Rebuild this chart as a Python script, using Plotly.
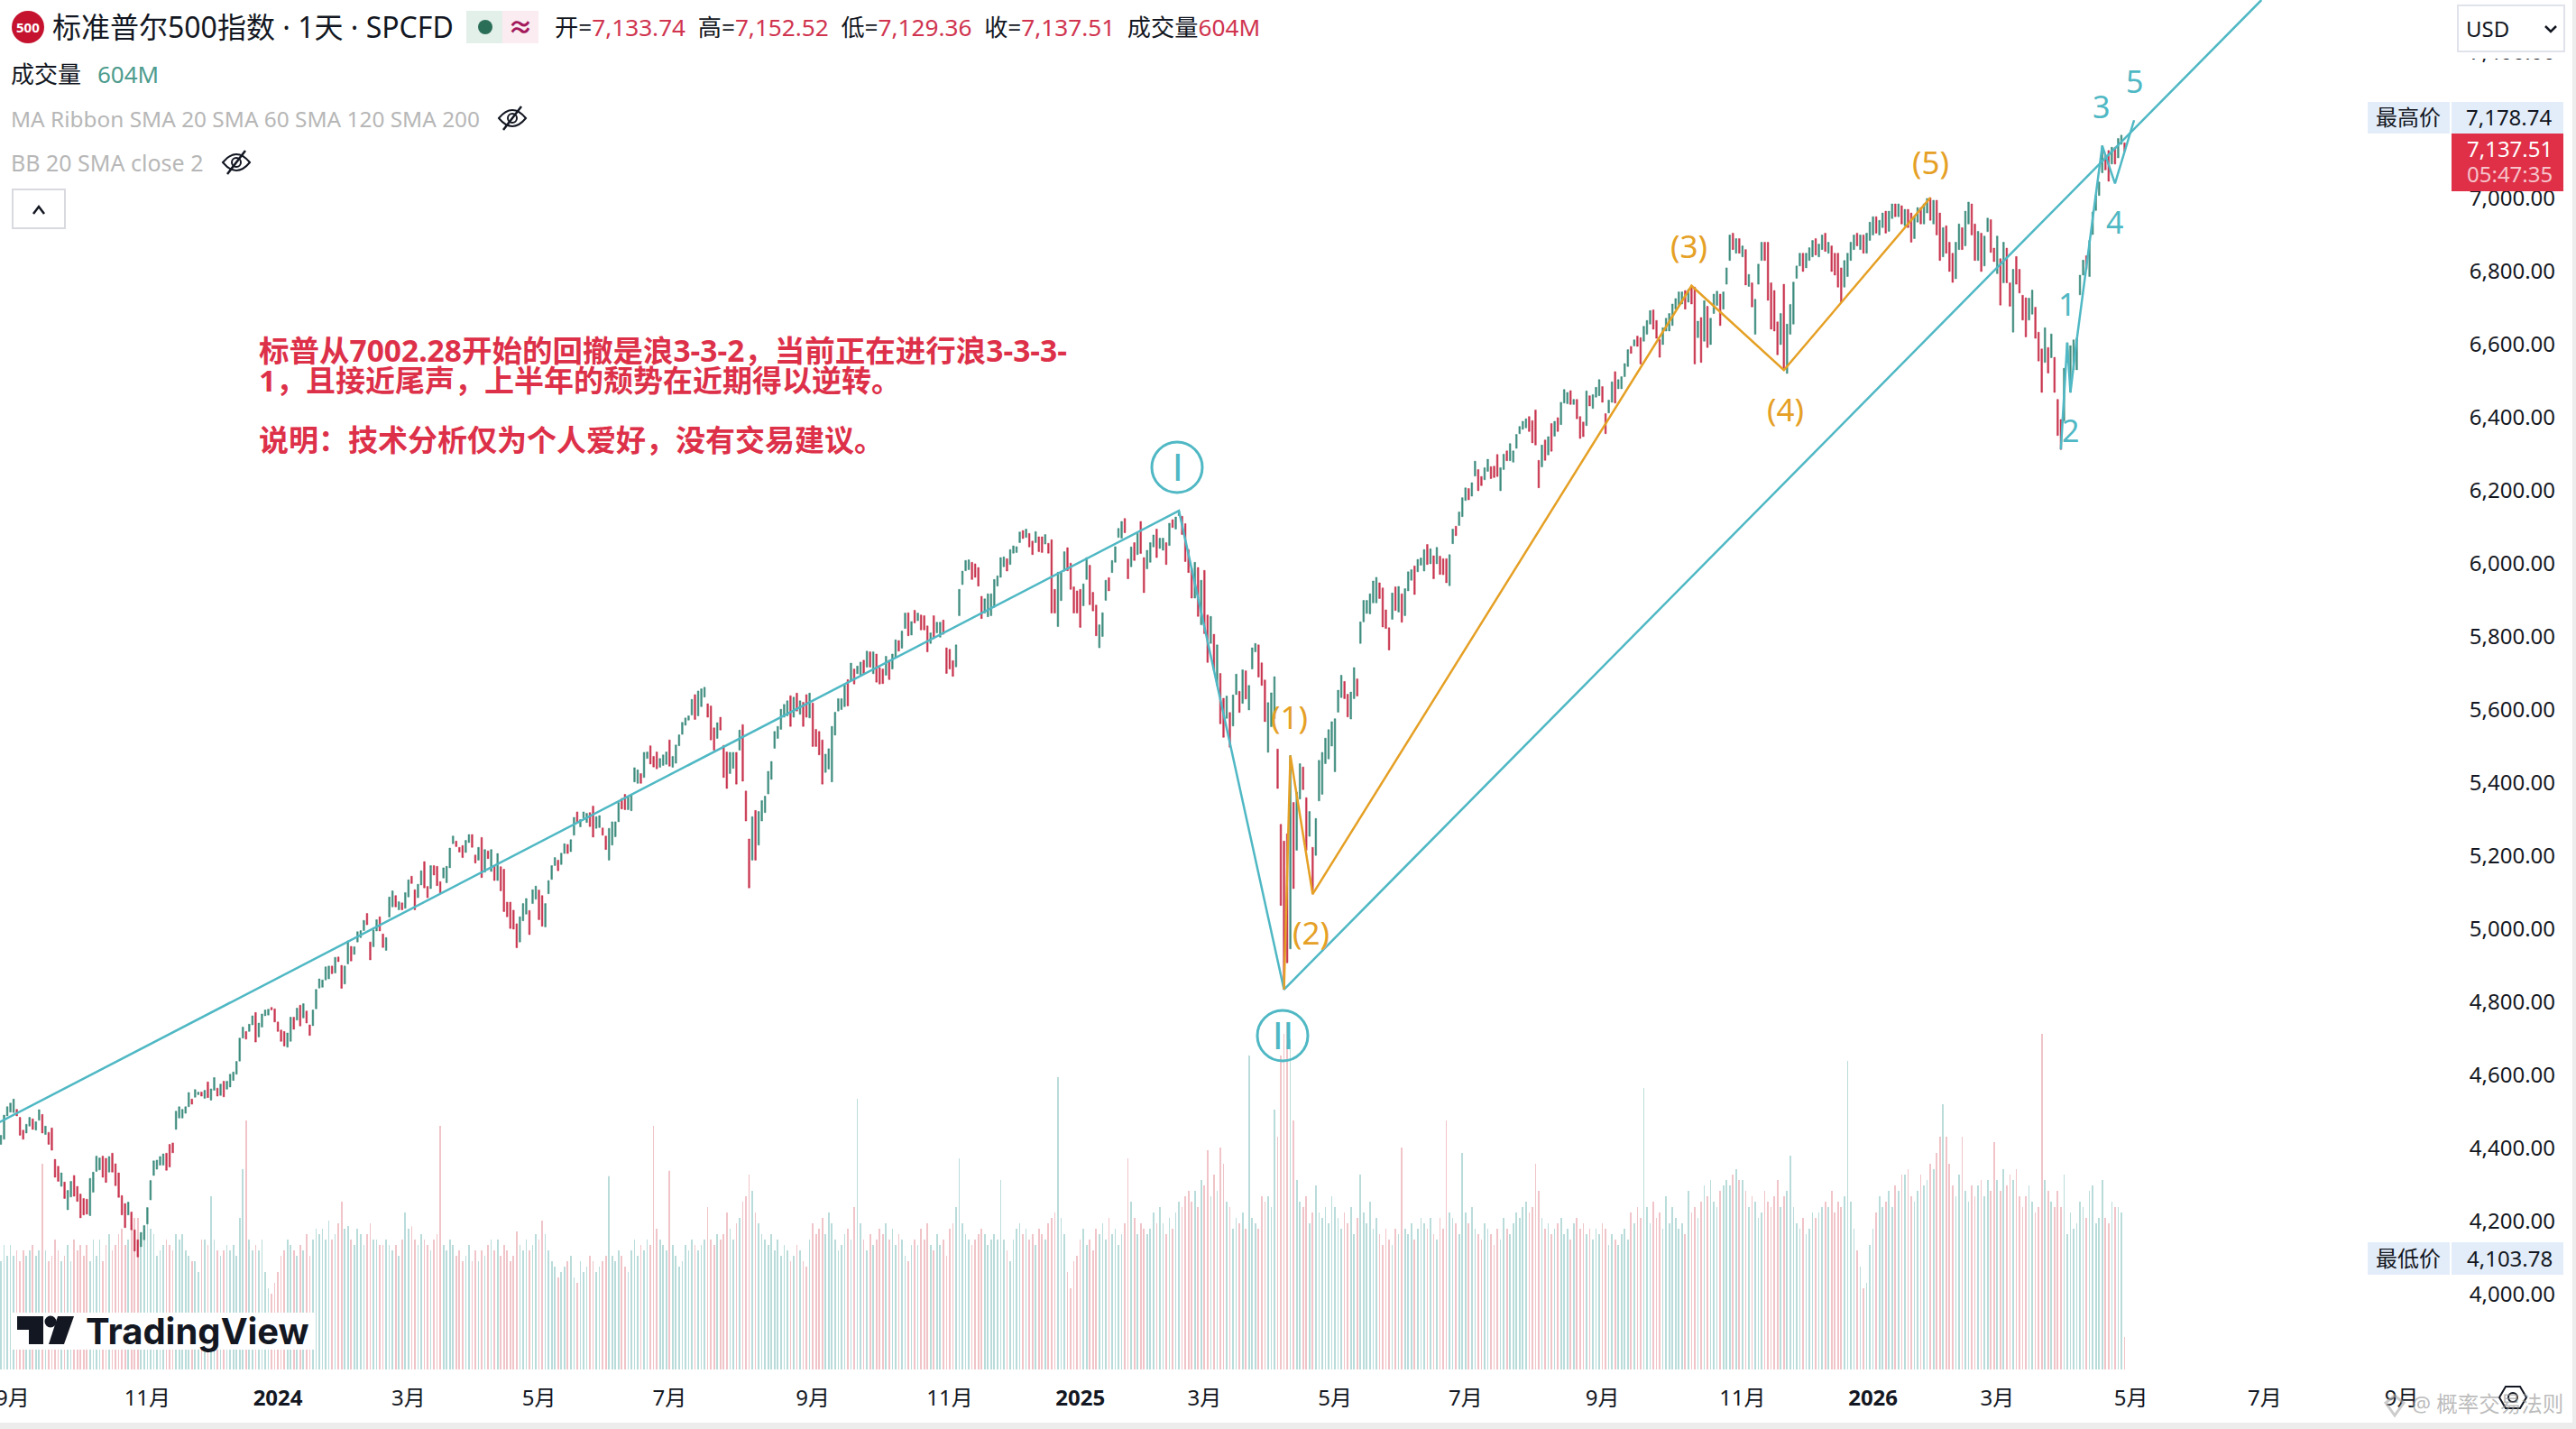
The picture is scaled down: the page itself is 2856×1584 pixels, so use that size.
import plotly.graph_objects as go

# daily bars, 20 per row
bar_open = [
    4411,4425,4489,4499,4498,4507,4485,4450,4442,4461,4481,4450,4477,4493,4438,4444,4456,4370,4351,4296,
    4308,4232,4267,4326,4296,4275,4263,4261,4216,4280,4337,4341,4379,4373,4335,4387,4358,4333,4271,4249,
    4218,4226,4177,4150,4131,4150,4193,4259,4326,4343,4354,4354,4387,4411,4415,4452,4483,4483,4496,4514,
    4535,4540,4547,4554,4537,4582,4532,4559,4565,4545,4584,4562,4568,4586,4603,4639,4702,4720,4720,4738,
    4772,4705,4732,4763,4765,4786,4782,4746,4724,4720,4677,4693,4759,4751,4792,4757,4776,4738,4736,4782,
    4839,4841,4861,4864,4899,4880,4924,4901,4850,4905,4953,4931,4965,4977,4996,5043,4965,4952,4995,5034,
    4987,4942,5033,5061,5092,5053,5072,5057,5088,5145,5108,5086,5121,5185,5117,5111,5174,5172,5130,5140,
    5127,5168,5234,5241,5224,5229,5210,5237,5259,5203,5189,5251,5156,5214,5158,5173,5133,5171,5164,5074,
    5074,5052,5015,4965,5023,5041,5051,5070,5082,5107,5092,5006,5097,5136,5174,5189,5177,5207,5232,5212,
    5257,5321,5280,5304,5292,5319,5337,5276,5278,5277,5255,5189,5230,5253,5294,5358,5369,5327,5324,5403,
    5399,5426,5415,5467,5502,5473,5485,5443,5448,5451,5518,5443,5454,5502,5533,5558,5572,5586,5642,5584,
    5609,5635,5617,5611,5551,5522,5580,5503,5485,5426,5440,5484,5490,5560,5378,5247,5189,5325,5230,5296,
    5319,5370,5410,5495,5522,5547,5580,5584,5639,5580,5646,5588,5621,5642,5578,5619,5547,5541,5518,5429,
    5438,5403,5531,5597,5601,5609,5683,5681,5712,5699,5695,5736,5717,5759,5699,5753,5716,5712,5695,5736,
    5712,5742,5790,5769,5823,5866,5805,5873,5844,5860,5858,5830,5782,5858,5811,5799,5846,5770,5766,5735,
    5718,5858,5943,5981,5984,6004,6000,5990,5911,5865,5855,5858,5881,5939,5963,5992,6014,5998,6029,6031,
    6058,6091,6072,6083,6062,6058,6074,6074,6054,6056,6066,5930,5828,5899,5980,6044,6002,5937,5926,5930,
    5885,5957,5996,5922,5887,5770,5801,5900,5962,5976,6004,6072,6070,6124,6013,5992,6058,6025,6116,6017,
    5986,6004,6046,6095,6042,6037,6058,6050,6121,6095,6132,6130,6110,6039,5988,5906,5990,5833,5982,5860,
    5782,5807,5667,5700,5632,5577,5593,5556,5642,5651,5618,5707,5600,5712,5759,5778,5729,5682,5484,5554,
    5576,5493,5287,5241,5261,4946,5347,5216,5356,5444,5360,5254,5224,5202,5351,5369,5453,5466,5501,5431,
    5594,5634,5678,5643,5575,5631,5685,5782,5841,5864,5863,5893,5893,5948,5934,5874,5825,5848,5937,5868,
    5918,5858,5926,5955,5994,5978,5996,5980,6053,6000,6022,6000,6021,6014,6014,5940,6055,6103,6105,6129,
    6173,6206,6185,6240,6258,6239,6230,6253,6266,6267,6299,6200,6258,6309,6282,6278,6316,6356,6368,6372,
    6403,6392,6421,6283,6265,6339,6298,6384,6349,6400,6381,6440,6438,6474,6436,6450,6403,6388,6378,6460,
    6425,6456,6460,6485,6411,6413,6442,6526,6479,6479,6512,6540,6595,6596,6623,6619,6609,6628,6656,6695,
    6666,6614,6600,6637,6637,6652,6697,6707,6711,6748,6716,6761,6757,6619,6674,6609,6705,6600,6685,6707,
    6738,6697,6765,6830,6905,6850,6890,6840,6860,6759,6769,6628,6765,6830,6880,6880,6769,6748,6662,6600,
    6765,6521,6628,6656,6781,6815,6850,6810,6830,6840,6890,6840,6860,6905,6850,6870,6850,6850,6810,6757,
    6786,6830,6860,6905,6860,6900,6850,6885,6900,6950,6900,6920,6965,6910,6945,6985,6950,6980,6925,6970,
    6960,6890,6935,6975,6930,6960,7002,6930,6995,6960,6840,6925,6880,6850,6780,6860,6920,6870,6930,6985,
    6930,6830,6905,6815,6909,6942,6864,6794,6835,6769,6864,6769,6634,6841,6806,6735,6728,6667,6683,6702,
    6634,6588,6551,6592,6564,6565,6450,6395,6391,6551,6469,6531,6531,6736,6790,6843,6786,6901,6967,7008,
    7070,7119,7131,7094,7140,7111,7148,7152,
]
bar_close = [
    4436,4491,4514,4524,4535,4489,4436,4425,4466,4485,4452,4473,4506,4442,4461,4411,4395,4321,4310,4333,
    4263,4285,4310,4269,4255,4210,4218,4220,4318,4335,4379,4374,4321,4307,4378,4335,4298,4266,4218,4183,
    4253,4177,4119,4103,4170,4189,4238,4312,4366,4368,4378,4385,4340,4349,4388,4502,4514,4507,4514,4553,
    4521,4561,4554,4543,4559,4539,4563,4594,4543,4576,4541,4584,4603,4609,4638,4702,4732,4699,4740,4763,
    4691,4743,4768,4779,4781,4779,4746,4720,4693,4680,4716,4759,4726,4784,4735,4796,4743,4709,4779,4835,
    4864,4861,4897,4899,4878,4923,4911,4838,4899,4968,4913,4952,4993,4996,5024,5012,4916,4998,5026,4995,
    4950,4977,5088,5105,5061,5075,5053,5100,5135,5125,5053,5123,5160,5113,5086,5174,5148,5119,5098,5168,
    5172,5222,5255,5226,5211,5196,5243,5259,5224,5181,5224,5141,5218,5193,5218,5133,5207,5105,5048,5034,
    5002,5000,4949,5034,5070,5084,4985,5108,5118,5026,5008,5070,5133,5174,5196,5160,5208,5234,5207,5245,
    5306,5290,5300,5321,5317,5281,5252,5308,5311,5257,5218,5276,5294,5294,5347,5329,5327,5364,5369,5442,
    5436,5399,5484,5485,5452,5444,5439,5467,5477,5485,5446,5473,5504,5532,5566,5578,5584,5629,5574,5652,
    5658,5662,5580,5518,5490,5565,5545,5415,5385,5484,5484,5397,5545,5405,5296,5113,5308,5189,5322,5352,
    5364,5432,5459,5541,5555,5602,5615,5625,5555,5635,5597,5625,5555,5580,5646,5500,5500,5477,5397,5479,
    5494,5555,5594,5631,5631,5668,5611,5728,5671,5720,5731,5699,5761,5717,5759,5676,5671,5672,5747,5683,
    5753,5792,5761,5816,5865,5803,5842,5838,5865,5819,5819,5759,5811,5795,5840,5840,5807,5700,5712,5692,
    5778,5930,5980,6009,6011,5957,5963,5939,5850,5904,5918,5918,5957,5967,6017,6019,5980,6039,6049,6047,
    6087,6069,6095,6046,6025,6088,6033,6031,6080,6029,5865,5865,5977,5976,6033,5981,5930,5865,5865,5826,
    5945,6017,5888,5871,5803,5833,5866,5955,5926,6009,6047,6097,6116,6085,5959,6046,6009,6083,6028,5921,
    6037,6058,6079,6017,6070,6070,5998,6111,6099,6128,6145,6080,6006,5976,5906,6004,5856,5955,5809,5730,
    5856,5708,5778,5562,5525,5638,5498,5641,5698,5593,5710,5630,5667,5770,5782,5690,5667,5568,5620,5647,
    5691,5385,5065,4835,4908,5475,5111,5375,5453,5382,5216,5322,5096,5303,5462,5484,5523,5546,5568,5576,
    5654,5695,5631,5581,5649,5716,5638,5841,5900,5900,5918,5953,5963,5905,5827,5823,5764,5920,5872,5938,
    5840,5932,5978,5984,5916,6012,6016,6039,5998,6041,5959,6045,5971,5970,5948,6025,6095,6077,6142,6181,
    6208,6175,6222,6281,6200,6214,6263,6286,6233,6236,6239,6263,6300,6282,6329,6309,6354,6376,6390,6397,
    6362,6331,6325,6208,6325,6283,6348,6308,6390,6362,6442,6477,6469,6436,6450,6397,6343,6348,6473,6432,
    6463,6483,6504,6442,6356,6448,6498,6440,6504,6512,6548,6586,6576,6613,6595,6547,6650,6666,6693,6642,
    6617,6565,6646,6672,6685,6711,6726,6744,6744,6697,6751,6711,6547,6664,6551,6720,6592,6672,6738,6746,
    6652,6744,6810,6900,6860,6890,6850,6870,6763,6792,6703,6724,6820,6880,6830,6721,6642,6637,6572,6685,
    6530,6656,6710,6771,6815,6850,6800,6850,6865,6885,6845,6875,6900,6855,6880,6800,6790,6757,6716,6830,
    6850,6880,6900,6870,6900,6850,6905,6935,6950,6905,6940,6960,6905,6965,6985,6950,6985,6930,6970,6920,
    6880,6950,6975,6930,6985,7000,6940,6995,6900,6830,6920,6850,6800,6770,6880,6930,6860,6965,6990,6900,
    6830,6910,6800,6897,6946,6852,6827,6897,6708,6880,6769,6705,6806,6765,6741,6667,6621,6727,6749,6617,
    6555,6469,6646,6522,6629,6469,6351,6313,6535,6605,6597,6613,6617,6790,6831,6806,6885,6963,7008,7045,
    7144,7078,7047,7140,7094,7164,7173,7129,
]
# volume in billions
bar_volume = [
    2.0,2.3,2.1,2.3,2.1,2.2,2.0,2.2,2.1,2.2,2.3,2.1,2.2,3.8,2.2,2.0,2.1,2.4,2.2,2.0,
    2.1,2.3,2.0,2.4,2.2,2.3,2.1,2.3,2.0,2.4,2.1,2.4,2.0,2.3,2.5,2.2,2.3,2.5,2.6,2.3,
    2.4,2.7,2.8,2.8,2.5,2.6,2.7,2.6,2.5,2.1,2.2,2.3,2.4,2.3,2.2,2.5,2.4,2.5,2.2,2.1,
    2.0,2.0,1.8,2.4,2.4,2.3,3.2,2.4,2.2,2.1,2.2,2.3,2.2,2.3,2.1,2.8,3.7,4.6,2.4,2.2,
    2.3,2.2,2.4,1.8,1.5,1.4,1.6,1.8,2.1,2.2,2.4,2.3,2.2,2.1,2.3,2.2,2.5,2.1,2.4,2.6,
    2.5,2.6,2.4,2.75,2.4,2.5,2.7,3.1,2.6,2.65,2.4,2.3,2.6,2.5,2.3,2.5,2.7,2.4,2.4,2.3,
    2.3,2.4,2.3,2.2,2.3,2.1,2.4,2.9,2.6,2.64,2.4,2.3,2.5,2.4,2.3,2.2,2.4,2.5,4.5,2.3,
    2.2,2.4,2.3,2.1,2.2,2.0,2.1,2.3,2.0,2.2,2.0,2.2,2.1,2.3,2.4,2.2,2.4,2.1,2.3,2.2,
    2.0,2.1,2.55,2.3,2.2,2.4,2.2,2.3,2.5,2.4,2.75,2.5,2.2,2.0,1.9,1.7,1.8,1.9,2.0,2.1,
    1.7,1.6,2.0,1.8,1.9,2.1,2.0,1.8,1.9,2.0,2.1,3.57,2.1,2.0,2.2,2.1,1.9,1.8,2.2,2.4,
    2.1,2.3,2.2,2.4,2.3,4.5,2.6,2.4,2.3,2.2,3.67,2.3,2.1,1.9,2.0,2.3,2.2,2.4,2.3,2.2,
    2.3,2.4,3.0,2.4,2.3,2.5,2.4,2.5,2.9,2.6,2.4,2.7,2.8,3.1,3.2,3.6,3.3,2.9,2.7,2.5,
    2.4,2.3,2.5,2.2,2.4,2.1,2.3,2.2,2.0,2.1,2.3,2.2,2.0,1.9,2.4,2.7,2.5,2.6,2.8,2.5,
    2.9,2.7,2.4,2.2,2.3,2.5,2.6,2.4,3.0,5.0,2.7,2.4,2.2,2.5,2.3,2.4,2.6,2.5,2.7,2.4,
    2.6,2.3,2.5,2.4,2.1,2.0,2.3,2.4,2.3,2.6,2.4,2.7,2.3,2.2,2.5,2.3,2.4,2.1,2.6,2.7,
    3.0,3.9,2.7,2.5,2.4,2.3,2.4,2.5,2.6,2.5,2.3,2.4,2.5,2.4,3.5,2.4,2.2,2.0,2.4,2.6,
    2.7,2.5,2.6,2.4,2.5,2.3,2.6,2.5,2.4,2.7,2.8,2.9,5.4,2.8,2.5,1.8,1.5,2.0,2.1,2.4,
    2.6,2.3,2.4,2.2,2.6,2.5,2.7,2.4,2.8,2.5,2.6,2.3,2.5,2.7,3.9,3.1,2.8,2.5,2.7,2.6,
    2.5,2.6,2.9,2.7,3.0,2.7,2.5,2.8,2.6,2.9,3.1,3.0,3.2,3.3,3.1,3.3,3.0,3.5,3.4,4.05,
    3.2,3.6,3.3,4.1,3.8,3.1,3.0,2.6,2.8,2.7,2.9,2.6,5.8,2.8,2.7,2.6,3.2,3.1,3.2,3.0,
    4.8,4.3,5.8,6.2,6.0,6.1,4.6,3.5,3.1,3.0,3.2,2.7,2.9,3.4,2.9,2.8,3.0,2.7,3.2,3.0,
    2.8,2.6,2.9,2.7,3.0,2.5,2.8,3.6,2.9,2.7,3.1,2.6,2.8,2.5,2.3,2.6,2.4,2.3,2.6,2.5,
    4.1,2.6,2.5,2.7,2.4,2.6,2.8,2.7,2.6,2.8,2.5,2.4,2.8,2.6,4.6,2.9,2.8,2.7,2.5,4.0,
    2.9,2.7,3.0,2.6,2.5,2.4,2.7,2.6,2.5,2.3,2.6,2.4,2.8,2.6,2.5,2.7,2.9,2.8,3.0,3.1,
    2.9,3.0,3.8,3.3,2.8,2.6,2.7,2.5,2.6,2.7,2.8,2.5,2.6,2.4,2.7,2.8,2.6,2.7,2.5,2.6,
    2.4,2.6,2.5,2.7,2.6,2.3,2.5,2.4,2.3,2.5,2.6,2.4,2.9,2.7,3.0,2.8,5.2,3.0,2.7,3.1,
    2.8,2.9,2.6,3.2,2.7,3.0,2.8,2.6,2.7,2.5,3.3,2.9,3.0,2.8,3.1,3.4,3.2,3.5,3.1,3.0,
    3.3,3.4,3.5,3.4,3.6,3.7,3.5,3.5,3.3,3.0,3.2,3.1,2.8,2.9,3.3,3.1,3.0,3.2,3.5,3.0,
    3.2,3.3,3.95,3.0,2.7,2.6,2.8,2.5,2.6,2.9,2.8,2.9,3.0,3.1,3.0,3.3,2.9,3.1,3.0,3.2,
    5.7,3.1,2.6,2.2,1.9,1.5,1.6,2.3,2.6,2.9,3.2,3.0,3.1,3.3,3.0,3.4,3.3,3.6,3.6,3.7,
    3.2,3.1,3.3,3.6,3.4,3.5,3.8,3.7,4.0,4.3,4.9,4.3,3.8,3.4,3.2,3.6,4.3,3.3,3.1,3.4,
    3.2,3.4,3.5,3.2,3.5,3.3,4.2,3.5,3.3,3.7,3.4,3.6,3.5,3.7,3.2,3.0,3.2,3.4,3.1,2.9,
    3.0,6.2,3.5,3.3,3.1,3.0,3.3,3.0,3.6,2.5,2.9,2.6,2.7,3.1,3.0,2.8,3.3,3.4,2.7,2.8,
    3.5,2.8,2.7,3.1,3.0,3.0,2.9,0.6,
]

tick_bars = [46, 87, 128, 169, 210, 255, 298, 339, 378, 419, 460, 503, 547, 588, 627, 669, 711, 754]
tick_names = ['11月', '<b>2024</b>', '3月', '5月', '7月', '9月', '11月', '<b>2025</b>', '3月', '5月', '7月',
              '9月', '11月', '<b>2026</b>', '3月', '5月', '7月', '9月']
price_ticks = [4000, 4200, 4400, 4600, 4800, 5000, 5200, 5400, 5600, 5800, 6000, 6200, 6400, 6600, 6800, 7000, 7400]

# wave counts drawn on the chart, (bar, price)
wave_teal_big_x = [-1, 370, 403, 710]
wave_teal_big_y = [4469, 6145, 4835, 7543]
wave_teal_small_x = [647, 649, 650, 652, 660, 664, 670]
wave_teal_small_y = [6313, 6605, 6469, 6613, 7144, 7041, 7214]
wave_orange_x = [403, 405, 412, 531, 560, 606]
wave_orange_y = [4835, 5475, 5096, 6761, 6530, 7002]

TEAL = '#4fb8c4'
ORANGE = '#e5a025'
RED_BAR = '#c8354f'
GREEN_BAR = '#3f8d7f'
INK = '#131722'
RED_TEXT = '#dd3049'
FONT = 'Noto Sans, Noto Sans CJK SC'

W, H = 2856, 1584
PLOT_R, PLOT_B = 2718, 1518   # right and bottom edge of the chart pane


def px(x):
    return x / PLOT_R


def py(y):
    return 1 - y / PLOT_B


bars_x = list(range(len(bar_open)))
print(len(bar_open), len(bar_close), len(bar_volume))
vol_colors = ['#b9dcda' if c >= o else '#f0c4c8' for o, c in zip(bar_open, bar_close)]

fig = go.Figure()

fig.add_trace(go.Bar(x=bars_x, y=bar_volume, marker_color=vol_colors, marker_line_width=0, width=0.2, yaxis='y'))
fig.add_trace(go.Candlestick(
    x=bars_x,
    open=bar_open,
    close=bar_close,
    high=[max(o, c) for o, c in zip(bar_open, bar_close)],
    low=[min(o, c) for o, c in zip(bar_open, bar_close)],
    increasing=dict(line=dict(color=GREEN_BAR, width=0.5), fillcolor=GREEN_BAR),
    decreasing=dict(line=dict(color=RED_BAR, width=0.5), fillcolor=RED_BAR),
    whiskerwidth=0,
    yaxis='y2',
))
for xs, ys, color in [(wave_teal_big_x, wave_teal_big_y, TEAL),
                      (wave_teal_small_x, wave_teal_small_y, TEAL),
                      (wave_orange_x, wave_orange_y, ORANGE)]:
    fig.add_trace(go.Scatter(x=xs, y=ys, mode='lines', line=dict(color=color, width=2.5), yaxis='y2'))

shapes = []
notes = []


def rect(x0, y0, x1, y1, fill, line=None):
    shapes.append(dict(type='rect', xref='paper', yref='paper', x0=px(x0), x1=px(x1), y0=py(y0), y1=py(y1),
                       fillcolor=fill, line=dict(color=line or fill, width=2 if line else 0)))


def circle(cx, cy, r, line=None, fill='rgba(0,0,0,0)', width=3):
    shapes.append(dict(type='circle', xref='paper', yref='paper', x0=px(cx - r), x1=px(cx + r),
                       y0=py(cy + r), y1=py(cy - r), fillcolor=fill,
                       line=dict(color=line or fill, width=width if line else 0)))


def path(points, line=None, fill='rgba(0,0,0,0)', width=2, closed=False):
    d = 'M ' + ' L '.join(f'{px(x):.5f},{py(y):.5f}' for x, y in points)
    if closed:
        d += ' Z'
    shapes.append(dict(type='path', xref='paper', yref='paper', path=d, fillcolor=fill,
                       line=dict(color=line or fill, width=width if line else 0)))


def text(x, y, s, size=26, color=INK, anchor='left', family=FONT):
    notes.append(dict(xref='paper', yref='paper', x=px(x), y=py(y), text=s, showarrow=False, xanchor=anchor,
                      yanchor='middle', align=anchor, font=dict(size=size, color=color, family=family)))


def eye_off(cx, cy):
    shapes.append(dict(type='path', xref='paper', yref='paper',
                       path=f'M {px(cx - 15):.5f},{py(cy):.5f} Q {px(cx):.5f},{py(cy - 18):.5f} {px(cx + 15):.5f},{py(cy):.5f} '
                            f'Q {px(cx):.5f},{py(cy + 18):.5f} {px(cx - 15):.5f},{py(cy):.5f} Z',
                       line=dict(color=INK, width=2)))
    circle(cx, cy, 5, line=INK, width=2)
    path([(cx - 10, cy + 13), (cx + 10, cy - 13)], line=INK, width=2.5)


# header
circle(31, 30, 18, fill='#c5122f')
text(31, 30, '<b>500</b>', size=15, color='white', anchor='center')
text(56, 30, '标准普尔500指数 · 1天 · SPCFD', size=32)
rect(517, 12, 557, 48, '#e3f0ea')
rect(557, 12, 597, 48, '#fbecf2')
circle(538, 30, 8, fill='#2b6e58')
text(577, 30, '<b>≈</b>', size=28, color='#a3195b', anchor='center')
vals = [('开', '7,133.74'), (' 高', '7,152.52'), (' 低', '7,129.36'), (' 收', '7,137.51')]
ohlc = ' '.join(f'{k}=<span style="color:#d0344f">{v}</span>' for k, v in vals)
text(613, 30, ohlc + '  成交量<span style="color:#d0344f">604M</span>', size=26.2)
text(10, 82, '成交量', size=26)
text(106, 82, '604M', size=26, color='#4d9c8e')
text(10, 131, 'MA Ribbon SMA 20 SMA 60 SMA 120 SMA 200', size=24.4, color='#b7b7b7')
eye_off(568, 131)
text(10, 180, 'BB 20 SMA close 2', size=25, color='#b7b7b7')
eye_off(262, 180)
rect(14, 210, 72, 253, 'white', line='#d8dadf')
path([(37, 237), (43, 229), (49, 237)], line=INK, width=2.5)

# commentary
text(285, 388, '<b>标普从7002.28开始的回撤是浪3-3-2，当前正在进行浪3-3-3-</b>', size=33.5, color=RED_TEXT)
text(285, 421, '<b>1，且接近尾声，上半年的颓势在近期得以逆转。</b>', size=33, color=RED_TEXT)
text(285, 487, '<b>说明：技术分析仅为个人爱好，没有交易建议。</b>', size=33, color=RED_TEXT)

# wave labels
circle(1305, 518, 28, line=TEAL)
text(1305, 518, 'I', size=42, color=TEAL, anchor='center', family='Roboto')
circle(1422, 1148, 28, line=TEAL)
text(1422, 1148, 'II', size=42, color=TEAL, anchor='center', family='Roboto')
for x, y, s in [(2291, 337, '1'), (2295, 477, '2'), (2329, 118, '3'), (2344, 246, '4'), (2366, 90, '5')]:
    text(x, y, s, size=34, color=TEAL, anchor='center')
for x, y, s in [(1430, 794, '(1)'), (1453, 1033, '(2)'), (1872, 273, '(3)'), (1980, 453, '(4)'), (2140, 180, '(5)')]:
    text(x, y, s, size=35, color=ORANGE, anchor='center')

# first month label sits half off the left edge
text(14, 1548, '9月', size=24, anchor='center')

# price scale boxes
rect(2720, 0, 2856, 65, 'white')
rect(2725, 6, 2843, 57, 'white', line='#e0e3eb')
text(2732, 32, 'USD', size=24)
path([(2822, 29), (2828, 35), (2834, 29)], line=INK, width=2.5)
rect(2625, 113, 2716, 148, '#e3edf9')
rect(2718, 113, 2842, 148, '#e3edf9')
text(2670, 130, '最高价', size=24, anchor='center')
text(2782, 130, '7,178.74', size=24, anchor='center')
rect(2718, 148, 2842, 212, '#df3048')
text(2782, 164, '7,137.51', size=24, color='white', anchor='center')
text(2782, 193, '05:47:35', size=24, color='#f6c3ca', anchor='center')
rect(2625, 1377, 2716, 1413, '#e3edf9')
rect(2718, 1377, 2842, 1413, '#e3edf9')
text(2670, 1394, '最低价', size=24, anchor='center')
text(2782, 1394, '4,103.78', size=24, anchor='center')

# logo
rect(14, 1455, 350, 1496, 'white')
path([(19, 1459), (48, 1459), (48, 1490), (32, 1490), (32, 1474), (19, 1474)], fill=INK, closed=True)
circle(56, 1465, 6.5, fill=INK)
path([(64, 1459), (82, 1459), (71, 1490), (54, 1490)], fill=INK, closed=True)
text(93, 1475, '<b>TradingView</b>', size=40, family='Inter')

# frame strips and corner marks
rect(2852, 0, 2856, 1584, '#ececec')
rect(0, 1577, 2856, 1584, '#ececec')
path([(2771, 1549), (2778, 1537), (2794, 1537), (2801, 1549), (2794, 1561), (2778, 1561)], line=INK, width=2, closed=True)
circle(2786, 1549, 5, line=INK, width=2)
text(2672, 1556, '@ 概率交易法则', size=23.5, color='rgba(150,150,150,0.65)')
path([(2645, 1555), (2655, 1547), (2665, 1555), (2655, 1569)], line='rgba(170,170,170,0.6)', width=3, closed=True)

fig.update_layout(
    width=W,
    height=H,
    margin=dict(l=0, r=W - PLOT_R, t=0, b=H - PLOT_B),
    paper_bgcolor='white',
    plot_bgcolor='white',
    showlegend=False,
    hovermode=False,
    shapes=shapes,
    annotations=notes,
    font=dict(family=FONT, color=INK),
    xaxis=dict(range=[-0.28, 769.7], tickmode='array', tickvals=tick_bars, ticktext=tick_names, showgrid=False,
               zeroline=False, showline=False, ticks='outside', ticklen=10, tickcolor='white',
               tickfont=dict(size=24), rangeslider=dict(visible=False), tickangle=0),
    yaxis=dict(range=[0, 25.3], visible=False, showgrid=False, zeroline=False),
    yaxis2=dict(range=[3795, 7543], overlaying='y', side='right', tickmode='array', tickvals=price_ticks,
                ticktext=[f'{v:,.2f}' for v in price_ticks], showgrid=False, zeroline=False, showline=False,
                ticks='outside', ticklen=14, tickcolor='white', tickfont=dict(size=24)),
)

fig.write_html("out.html", config={'displayModeBar': False}, post_script="document.body.style.margin='0';")
